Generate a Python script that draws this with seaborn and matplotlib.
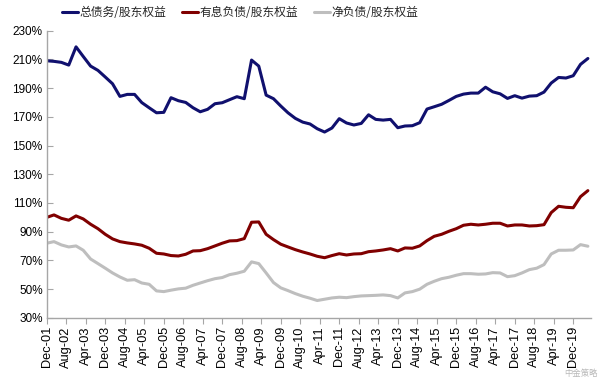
import matplotlib
matplotlib.use("Agg")
import matplotlib.pyplot as plt
import matplotlib.dates as mdates
from matplotlib.ticker import FuncFormatter
from matplotlib.lines import Line2D
import seaborn as sns
import pandas as pd

# ---- data (quarterly, Dec-01 .. Jun-20) ----
start_date = "2001-12-01"
n_points = 75

total_debt = [209.0, 208.6, 207.9, 206.0, 218.7, 212.0, 205.3, 202.3, 197.7, 193.0, 184.2, 185.6, 185.6, 179.9, 176.3,
              172.8, 173.1, 183.3, 181.2, 180.0, 176.3, 173.5, 175.2, 179.1, 179.8, 181.9, 184.0, 182.6, 209.5, 205.3,
              185.1, 182.6, 177.5, 172.8, 168.9, 166.3, 165.0, 161.7, 159.4, 162.2, 168.7, 165.7, 164.3, 165.4, 171.4,
              168.2, 167.7, 168.2, 162.4, 163.6, 163.8, 165.9, 175.4, 177.0, 178.7, 181.4, 184.2, 185.8, 186.5, 186.5,
              190.6, 187.4, 186.0, 182.8, 184.7, 183.0, 184.4, 184.7, 187.2, 193.5, 197.4, 197.0, 198.6, 206.5, 210.6]

interest_debt = [100.0, 101.7, 99.3, 98.0, 101.0, 98.9, 95.2, 92.1, 88.2, 85.0, 83.1, 82.2, 81.5, 80.6, 78.5,
                 75.0, 74.5, 73.4, 73.1, 74.3, 76.6, 76.8, 78.2, 80.1, 82.0, 83.6, 83.8, 85.2, 96.6, 96.8,
                 88.2, 84.5, 81.3, 79.4, 77.5, 75.9, 74.5, 72.9, 71.9, 73.4, 74.7, 73.8, 74.5, 74.7, 76.1,
                 76.6, 77.3, 78.2, 76.6, 78.7, 78.5, 80.1, 83.8, 86.8, 88.2, 90.3, 92.1, 94.5, 95.2, 94.7,
                 95.2, 95.9, 95.9, 94.0, 94.7, 94.7, 94.0, 94.2, 94.9, 103.3, 107.7, 107.0, 106.7, 114.4, 118.6]

net_debt = [82.0, 83.1, 80.8, 79.4, 80.1, 77.1, 71.0, 67.8, 64.6, 61.3, 58.5, 56.2, 56.6, 54.3, 53.4,
            48.8, 48.3, 49.3, 50.2, 50.7, 52.7, 54.3, 55.9, 57.3, 58.1, 60.1, 61.1, 62.5, 69.0, 67.8,
            61.3, 54.6, 50.9, 49.0, 46.9, 45.1, 43.7, 42.1, 43.0, 43.9, 44.4, 44.1, 44.8, 45.3, 45.5,
            45.7, 46.0, 45.5, 43.9, 47.4, 48.3, 50.0, 53.4, 55.5, 57.3, 58.3, 59.7, 60.8, 60.8, 60.4,
            60.6, 61.5, 61.3, 58.7, 59.4, 61.3, 63.6, 64.6, 67.1, 74.5, 77.1, 77.1, 77.3, 81.0, 79.9]

series_names = ["总债务/股东权益", "有息负债/股东权益", "净负债/股东权益"]
series_colors = ["#10106E", "#800000", "#BEBEBE"]

y_ticks = list(range(30, 231, 20))
watermark = "中金策略"

# ---- build long table ----
dates = pd.date_range(start_date, periods=n_points, freq="3MS")
df = pd.concat([
    pd.DataFrame({"date": dates, "value": vals, "series": name})
    for name, vals in zip(series_names, [total_debt, interest_debt, net_debt])
], ignore_index=True)

sns.set_theme(style="white")
plt.rcParams["font.family"] = ["Liberation Sans", "Noto Sans CJK SC", "DejaVu Sans"]

fig = plt.figure(figsize=(6.0, 3.78), dpi=100)
ax = fig.add_axes([0.078, 0.159, 0.907, 0.760])

sns.lineplot(data=df, x="date", y="value", hue="series", hue_order=series_names,
             palette=dict(zip(series_names, series_colors)), linewidth=2.2, ax=ax,
             legend=False)

ax.set_xlim(pd.Timestamp("2001-12-01"), pd.Timestamp("2020-07-10"))
ax.set_ylim(30, 230)
ax.set_yticks(y_ticks)
ax.yaxis.set_major_formatter(FuncFormatter(lambda v, p: f"{int(v)}%"))

tick_dates = pd.date_range(start_date, "2020-01-01", freq="8MS")
ax.set_xticks(mdates.date2num(tick_dates))
ax.xaxis.set_major_formatter(mdates.DateFormatter("%b-%y"))
ax.set_xlabel("")
ax.set_ylabel("")

for s in ["top", "right"]:
    ax.spines[s].set_visible(False)
for s in ["left", "bottom"]:
    ax.spines[s].set_color("#A6A6A6")
    ax.spines[s].set_linewidth(1.0)

ax.tick_params(axis="y", direction="in", length=4, width=0.8, color="#A6A6A6",
               labelsize=8.5, pad=3, labelcolor="#000000", left=True)
ax.tick_params(axis="x", direction="out", length=4, width=0.8, color="#A6A6A6",
               labelsize=9.2, pad=2, labelrotation=90, labelcolor="#000000", bottom=True)
ax.grid(False)

handles = [Line2D([0], [0], color=c, lw=2.2) for c in series_colors]
fig.legend(handles, series_names, loc="center", bbox_to_anchor=(0.40, 0.966), ncol=3,
           frameon=False, handlelength=1.4, handletextpad=0.1, columnspacing=1.3,
           prop={"family": ["Noto Sans CJK SC", "DejaVu Sans"], "size": 8.5})

fig.text(0.997, 0.0, watermark, fontsize=6, color="#9A9A9A", alpha=0.7,
         family=["Noto Sans CJK SC", "DejaVu Sans"], ha="right", va="bottom")

fig.savefig("out.png", dpi=100, facecolor="white")
